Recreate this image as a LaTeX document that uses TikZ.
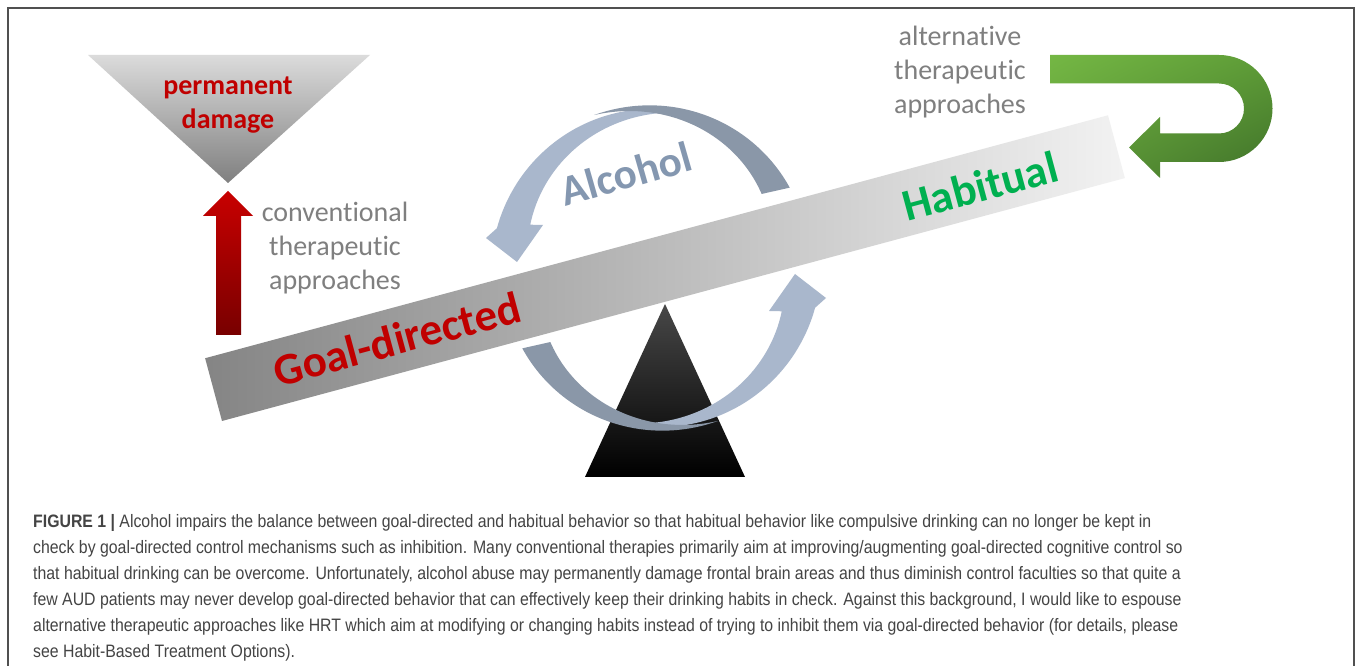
\documentclass[tikz,border=0pt]{standalone}
\usepackage{fontspec}
\setmainfont{Carlito}[Ligatures=NoCommon]
\newfontfamily\capfont[FakeStretch=0.88]{Liberation Sans}
\usetikzlibrary{shadings}
\definecolor{gdred}{HTML}{C00000}
\definecolor{arrred}{HTML}{C80000}
\definecolor{arrdkred}{HTML}{780000}
\definecolor{habgreen}{HTML}{00B050}
\definecolor{txtgray}{HTML}{7F7F7F}
\definecolor{alcblue}{HTML}{8497B0}
\definecolor{arrdark}{HTML}{8A97A8}
\definecolor{arrlight}{HTML}{A9B7CC}
\definecolor{bordergray}{HTML}{505050}
\definecolor{captxt}{HTML}{444444}
\definecolor{gA}{HTML}{74B744}
\definecolor{gB}{HTML}{5E9C37}
\definecolor{gC}{HTML}{5F9A38}
\definecolor{gD}{HTML}{3F7129}
\tikzset{
  graytext/.style={text=txtgray, align=center, inner sep=0pt, font=\fontsize{28}{34}\selectfont},
  bigword/.style={inner sep=0pt, font=\fontsize{45}{50}\selectfont\bfseries, rotate=15.06},
  capline/.style={anchor=base west, inner sep=0pt, text=captxt, font=\capfont\fontsize{18}{26}\selectfont},
}
\newcommand{\alcarrowshape}{%
  \fill[arrlight] plot[domain=0:1,samples=50,variable=\t]
      ({656+(158+6*\t)*cos(72+94*\t)},{398+(158+6*\t)*sin(72+94*\t)})
    -- (486,428) -- (517,404) -- (543,441)
    -- plot[domain=0:1,samples=50,variable=\t]
      ({656+(133+27*\t)*cos(161-89*\t)},{398+(133+27*\t)*sin(161-89*\t)}) -- cycle;
  \fill[arrdark] plot[domain=0:1,samples=50,variable=\t]
      ({656+(156+9*\t)*cos(31+81*\t)},{398+(156+9*\t)*sin(31+81*\t)})
    -- plot[domain=0:1,samples=50,variable=\t]
      ({656+(165-36*\t)*cos(112-77*\t)},{398+(165-36*\t)*sin(112-77*\t)}) -- cycle;
}
\begin{document}
\begin{tikzpicture}[x=1pt,y=1pt]
\useasboundingbox (0,0) rectangle (1358,666);
\fill[white] (0,0) rectangle (1358,666);
% frame
\draw[bordergray, line width=1.2pt] (8,0) -- (8,658) -- (1354,658) -- (1354,0);
% permanent damage triangle
\shade[top color=black!14, bottom color=black!50] (88,611) -- (370,611) -- (228,483) -- cycle;
\node[inner sep=0pt, align=center, text=gdred, font=\fontsize{28}{34}\selectfont\bfseries] (perm) at (228,561) {permanent\\damage};
% red arrow
\shade[top color=arrred, bottom color=arrdkred] (216,331) -- (216,450) -- (203,450) -- (228,475) -- (253,450) -- (241,450) -- (241,331) -- cycle;
\node[graytext] (conv) at (335,417.5) {conventional\\therapeutic\\approaches};
% green U arrow
\shade[upper left=gA, upper right=gB, lower left=gC, lower right=gD]
  (1050,611) -- (1219,611) arc[start angle=90, end angle=-90, radius=53.5]
  -- (1160,504) -- (1160,488) -- (1129,518.5) -- (1160,549) -- (1160,532.5)
  -- (1219,532.5) arc[start angle=-90, end angle=90, radius=25] -- (1050,582.5) -- cycle;
\node[graytext] (alt) at (960,593.5) {alternative\\therapeutic\\approaches};
% fulcrum
\shade[top color=black!72, middle color=black, bottom color=black] (665,362) -- (745,189) -- (585,189) -- cycle;
% bar
\node[rotate=15.06, anchor=south west, minimum width=935pt, minimum height=65pt, inner sep=0pt, outer sep=0pt,
      left color=black!48, right color=black!5] (bar) at (222,245) {};
% alcohol arrows
\alcarrowshape
\begin{scope}[rotate around={180:(656,398)}]
\alcarrowshape
\end{scope}
% words
\node[bigword, text=gdred] (goal) at (397,327) {Goal-directed};
\node[bigword, text=habgreen] (hab) at (980,480) {Habitual};
\node[inner sep=0pt, font=\fontsize{43}{48}\selectfont\bfseries, rotate=16, text=alcblue] (alc) at (626,492) {Alcohol};
% caption
\node[capline] (cap1) at (33,138) {\textbf{FIGURE 1 |} Alcohol impairs the balance between goal-directed and habitual behavior so that habitual behavior like compulsive drinking can no longer be kept in};
\node[capline] (cap2) at (33,112) {check by goal-directed control mechanisms such as inhibition. Many conventional therapies primarily aim at improving/augmenting goal-directed cognitive control so};
\node[capline] (cap3) at (33,86) {that habitual drinking can be overcome. Unfortunately, alcohol abuse may permanently damage frontal brain areas and thus diminish control faculties so that quite a};
\node[capline] (cap4) at (33,60) {few AUD patients may never develop goal-directed behavior that can effectively keep their drinking habits in check. Against this background, I would like to espouse};
\node[capline] (cap5) at (33,34) {alternative therapeutic approaches like HRT which aim at modifying or changing habits instead of trying to inhibit them via goal-directed behavior (for details, please};
\node[capline] (cap6) at (33,8) {see Habit-Based Treatment Options).};
\end{tikzpicture}
\end{document}
